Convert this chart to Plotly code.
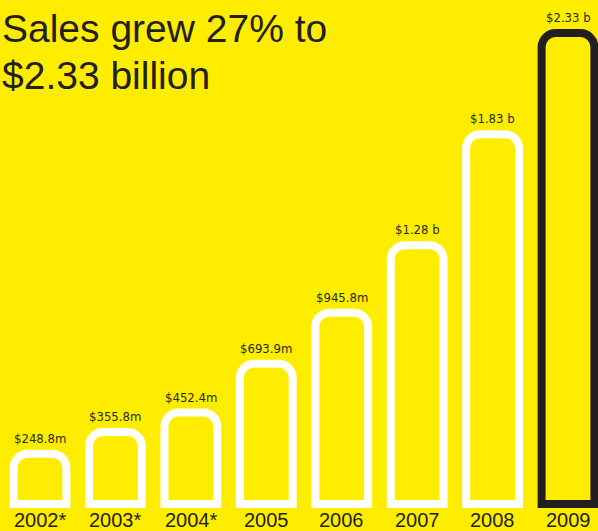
import plotly.graph_objects as go

# ---- data ----
years = ["2002*", "2003*", "2004*", "2005", "2006", "2007", "2008", "2009"]
sales_musd = [248.8, 355.8, 452.4, 693.9, 945.8, 1280, 1830, 2330]
value_labels = ["$248.8m", "$355.8m", "$452.4m", "$693.9m", "$945.8m",
                "$1.28 b", "$1.83 b", "$2.33 b"]
title_lines = ["Sales grew 27% to", "$2.33 billion"]

# ---- style ----
W, H = 598, 531
YELLOW = "#FFED00"
DARK = "#231f20"
px_per_unit = 0.2021
base_px = 27  # distance of y=0 from bottom edge

outline = ["#FFFFFF"] * (len(years) - 1) + [DARK]
xpos = list(range(len(years)))

fig = go.Figure()
fig.add_trace(go.Bar(
    x=xpos,
    y=sales_musd,
    width=0.70,
    marker=dict(color=YELLOW, line=dict(color=outline, width=8)),
    hoverinfo="skip",
))

annotations = []
for i, (yr, v, lab) in enumerate(zip(years, sales_musd, value_labels)):
    annotations.append(dict(
        x=i, y=v, xref="x", yref="y", text=lab, showarrow=False,
        xanchor="center", yanchor="bottom", yshift=6,
        font=dict(family="DejaVu Sans Condensed, Liberation Sans Narrow, sans-serif",
                  size=13, color="#2a2a22"),
    ))
    annotations.append(dict(
        x=i, y=0, xref="x", yref="y", text=yr, showarrow=False,
        xanchor="center", yanchor="top", yshift=-3,
        font=dict(family="Liberation Sans, Arial, sans-serif", size=20, color=DARK),
    ))

title_tops = [5, 52]
for line, top in zip(title_lines, title_tops):
    annotations.append(dict(
        x=0, y=1 - top / H, xref="paper", yref="paper", text=line,
        showarrow=False, xanchor="left", yanchor="top",
        font=dict(family="Liberation Sans, Arial, sans-serif", size=39, color=DARK),
    ))

r0 = -40 * 7 / 528
r1 = r0 + W * 7 / 528
fig.update_layout(
    width=W, height=H,
    margin=dict(l=0, r=0, t=0, b=0),
    paper_bgcolor=YELLOW, plot_bgcolor=YELLOW,
    showlegend=False,
    barcornerradius=14,
    xaxis=dict(range=[r0, r1], visible=False),
    yaxis=dict(range=[-base_px / px_per_unit, (H - base_px) / px_per_unit], visible=False),
    annotations=annotations,
)

fig.write_html(
    "out.html",
    config={"displayModeBar": False},
    post_script="document.body.style.margin='0';document.body.style.overflow='hidden';",
)
